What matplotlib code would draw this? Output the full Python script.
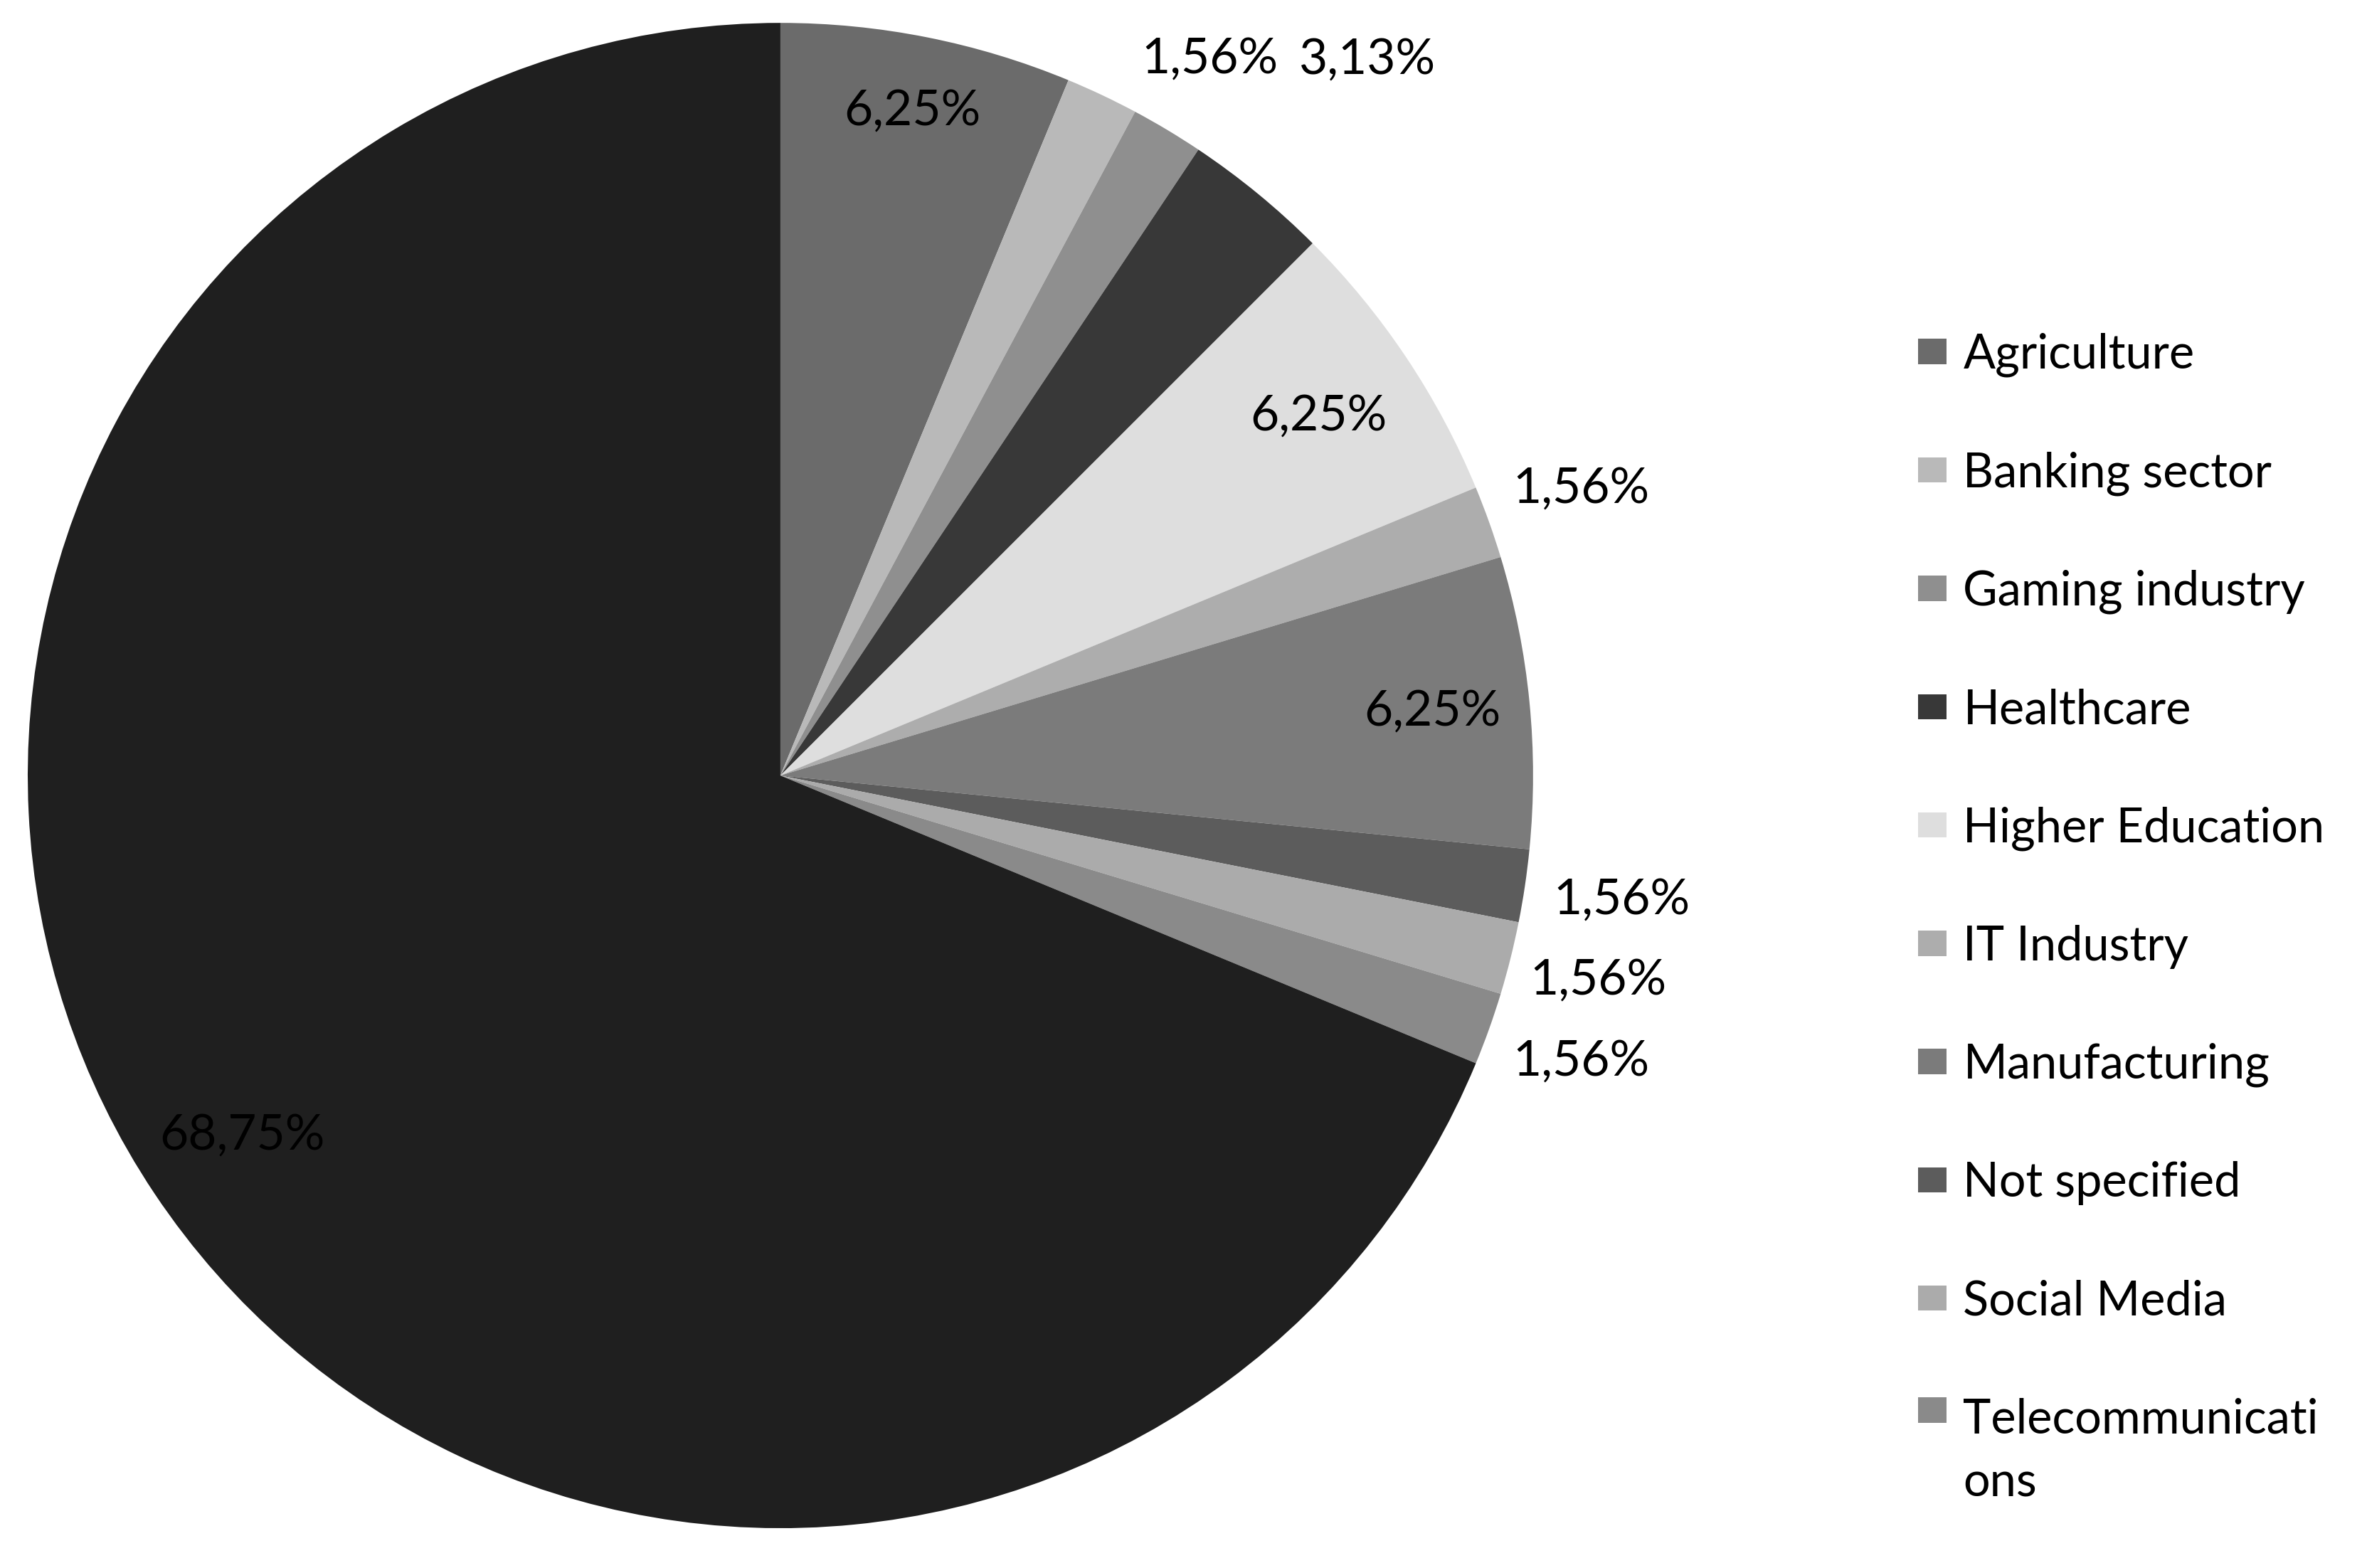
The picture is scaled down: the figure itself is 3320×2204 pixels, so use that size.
import numpy as np
import matplotlib.pyplot as plt

plt.rcParams['font.family'] = ['Lato', 'DejaVu Sans']

# Sectors of respondents (the last, largest slice has no entry in the legend)
sectors = ['Agriculture', 'Banking sector', 'Gaming industry', 'Healthcare',
           'Higher Education', 'IT Industry', 'Manufacturing', 'Not specified',
           'Social Media', 'Telecommunicati\nons', 'Other']
shares = [6.25, 1.56, 1.56, 3.13, 6.25, 1.56, 6.25, 1.56, 1.56, 1.56, 68.75]
grays = ['#6b6b6b', '#b9b9b9', '#8f8f8f', '#383838', '#dedede', '#adadad',
         '#7b7b7b', '#5c5c5c', '#ababab', '#8a8a8a', '#1f1f1f']
# radial position of each percentage label (None = no label shown)
label_r = [0.90, None, 1.11, 1.23, 0.86, 1.13, 0.87, 1.13, 1.12, 1.13, 0.86]

fig = plt.figure(figsize=(16.6, 11.02), dpi=200)
ax = fig.add_axes([0.0117, 0.0254, 0.6374, 0.96])

wedges, _ = ax.pie(shares, colors=grays, startangle=90, counterclock=False,
                   radius=1, wedgeprops=dict(linewidth=0))
ax.set_xlim(-1, 1)
ax.set_ylim(-1, 1)
ax.set_aspect('equal')
ax.axis('off')

for w, v, r in zip(wedges, shares, label_r):
    if r is None:
        continue
    mid = np.deg2rad((w.theta1 + w.theta2) / 2)
    txt = f"{v:.2f}%".replace('.', ',')
    ax.text(r * np.cos(mid), r * np.sin(mid), txt, ha='center', va='center',
            fontsize=25, color='black')

leg = fig.legend(wedges[:10], sectors[:10], loc='upper left',
                 bbox_to_anchor=(0.794, 0.815), frameon=False, fontsize=24,
                 handlelength=0.6, handleheight=0.45, handletextpad=0.35,
                 labelspacing=1.56)
leg.get_texts()[-1].set_linespacing(1.55)

# put the marker of the wrapped label next to its first line
for col in leg._legend_handle_box.get_children():
    items = col.get_children()
    items[-1].align = 'top'

fig.savefig('out.png', dpi=200)
